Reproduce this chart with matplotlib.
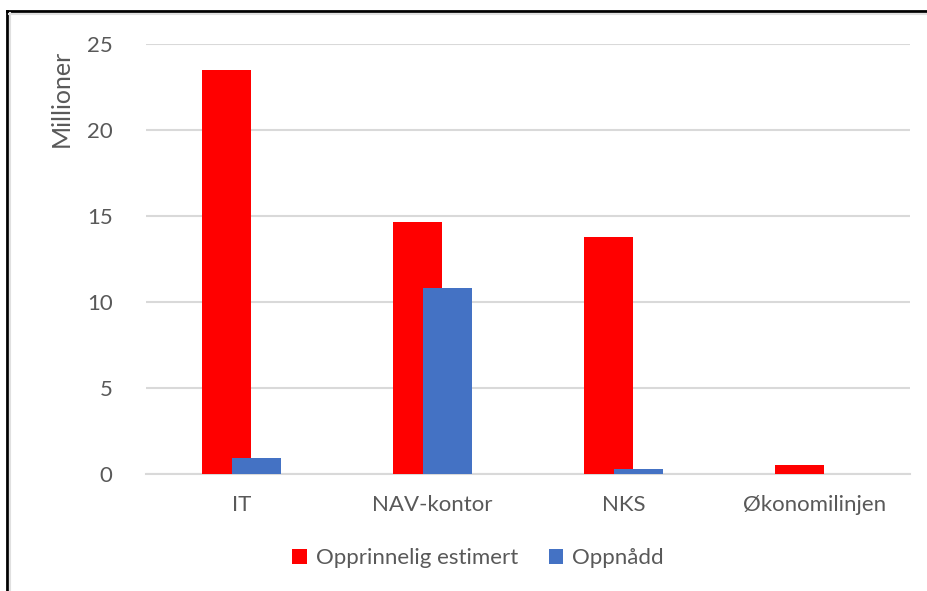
import matplotlib.pyplot as plt
from matplotlib.lines import Line2D
import numpy as np

categories = ['IT', 'NAV-kontor', 'NKS', 'Økonomilinjen']
estimert = [23.5, 14.65, 13.8, 0.5]
oppnadd = [0.95, 10.8, 0.27, 0.0]
yticks = [0, 5, 10, 15, 20, 25]

C_RED = '#ff0000'
C_BLUE = '#4472c4'
C_TXT = '#595959'
C_GRID = '#d9d9d9'

plt.rcParams['font.family'] = ['Lato', 'DejaVu Sans']

W, H = 927, 591
fig = plt.figure(figsize=(W / 100, H / 100), dpi=100)
fig.patch.set_facecolor('white')
ax = fig.add_axes([146 / W, 1 - 474 / H, (910 - 146) / W, (474 - 44) / H])

x = np.arange(len(categories))
width, off = 0.26, 0.079
ax.bar(x - off, estimert, width, color=C_RED, label='Opprinnelig estimert', zorder=3)
ax.bar(x + off, oppnadd, width, color=C_BLUE, label='Oppnådd', zorder=4)

ax.set_xlim(-0.5, len(categories) - 0.5)
ax.set_ylim(0, 25)
ax.set_yticks(yticks)
ax.set_xticks(x)
ax.set_xticklabels(categories)
ax.tick_params(axis='y', length=0, pad=24, labelsize=16, labelcolor=C_TXT)
ax.tick_params(axis='x', length=0, pad=15, labelsize=16, labelcolor=C_TXT)
ax.grid(axis='y', color=C_GRID, linewidth=1.5, zorder=0)
for s in ['top', 'right', 'left']:
    ax.spines[s].set_visible(False)
ax.spines['bottom'].set_color(C_GRID)
ax.spines['bottom'].set_linewidth(1.5)

fig.text(61 / W, 1 - 98 / H, 'Millioner', rotation=90, ha='center', va='center',
         fontsize=18, color=C_TXT)

ax.legend(loc='center', bbox_to_anchor=(478 / W, 1 - 558 / H), bbox_transform=fig.transFigure,
          ncol=2, frameon=False, fontsize=16, labelcolor=C_TXT,
          handlelength=0.65, handleheight=0.65, handletextpad=0.4, columnspacing=1.4)

# dark frame at top and left edge, like the screenshot
fig.add_artist(Line2D([7 / W, 1], [1 - 11 / H, 1 - 11 / H], color='black', linewidth=2))
fig.add_artist(Line2D([7 / W, 7 / W], [0, 1 - 11 / H], color='black', linewidth=2))
fig.add_artist(Line2D([9 / W, 1], [1 - 13.5 / H, 1 - 13.5 / H], color='#e0e0e0', linewidth=1.5))
fig.add_artist(Line2D([9.5 / W, 9.5 / W], [0, 1 - 13 / H], color='#e0e0e0', linewidth=1.5))

fig.savefig('out.png', dpi=100, facecolor=fig.get_facecolor())
